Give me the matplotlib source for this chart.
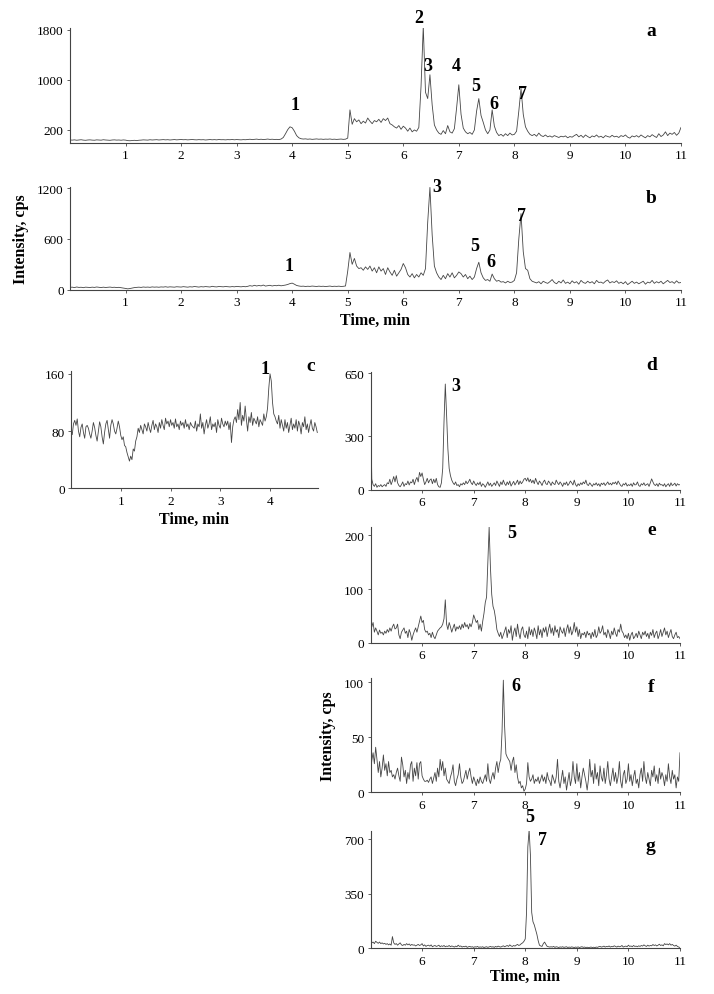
import numpy as np
import matplotlib
matplotlib.use("Agg")
import matplotlib.pyplot as plt

plt.rcParams['font.family'] = ['Liberation Serif', 'DejaVu Serif']

# ---------------- data ----------------
# panel a: TIC, 0-11 min, step 0.04 min
a_step = 0.04
a_y = [40, 38, 42, 36, 40, 44, 38, 35, 40, 42,
       38, 36, 42, 40, 37, 44, 40, 38, 35, 40,
       42, 38, 40, 36, 41, 38, 30, 28, 32, 35,
       30, 36, 38, 42, 40, 38, 44, 40, 42, 45,
       40, 43, 46, 42, 45, 40, 44, 47, 42, 45,
       48, 44, 46, 42, 45, 48, 44, 42, 46, 43,
       45, 40, 44, 47, 43, 46, 42, 48, 44, 45,
       42, 46, 44, 48, 43, 47, 45, 42, 46, 44,
       48, 52, 46, 50, 54, 48, 52, 47, 50, 55,
       49, 52, 48, 50, 46,
       55, 80, 140, 205, 250, 235, 180, 110, 75,
       60, 55, 58, 52, 56, 50, 54, 57, 52, 55,
       50, 54, 52, 56, 50, 53, 49, 52, 55, 50, 53,
       70, 520, 290, 380, 330, 360, 300, 340, 310, 390,
       340, 300, 350, 330, 370, 320, 380, 350, 390, 300,
       280, 250, 230, 270, 210, 260, 230, 180, 230, 170,
       200, 180, 240, 900, 1850, 800, 700, 1080, 600, 280,
       200, 150, 130, 190, 140, 270, 170, 150, 220, 550,
       920, 450, 230, 170, 140, 160, 130, 200, 500, 700,
       430, 320, 200, 140, 200, 520, 260, 160, 110, 130,
       100, 140, 110, 150, 120, 130, 180, 500, 860, 450,
       250, 180, 130, 110, 130, 100, 150, 110, 95, 120,
       90, 105, 85, 110, 95, 80, 100, 90, 105, 75,
       95, 85, 110, 130, 90, 115, 80, 120, 95, 75,
       105, 90, 120, 85, 100, 75, 110, 95, 85, 115,
       90, 100, 80, 110, 95, 120, 85, 70, 105, 90,
       110, 85, 120, 95, 75, 110, 90, 125, 100, 80,
       140, 95, 120, 170, 110, 150, 130, 160, 115, 150,
       240]

# panel b: 0-11 min, step 0.04 min
b_y = [28, 30, 25, 32, 27, 29, 24, 30, 28, 26,
       30, 27, 32, 28, 25, 30, 26, 29, 31, 27,
       29, 25, 28, 24, 20, 15, 10, 14, 20, 25,
       28, 30, 27, 32, 29, 31, 28, 33, 30, 32,
       29, 33, 31, 35, 30, 34, 32, 30, 35, 33,
       31, 36, 33, 30, 35, 32, 38, 34, 31, 36,
       33, 37, 34, 32, 40, 35, 33, 38, 36, 34,
       38, 35, 33, 37, 34, 39, 36, 34, 38, 35,
       40, 48, 42, 52, 44, 50, 45, 55, 43, 48,
       52, 44, 50, 47, 53, 46, 50, 55, 62, 72,
       78, 65, 50, 44, 40, 42, 38, 41, 39, 43,
       40, 38, 42, 39, 41, 37, 40, 43, 38, 41,
       39, 42, 38, 40, 44,
       220, 440, 300, 370, 280, 250, 260, 230, 270, 240,
       280, 220, 260, 200, 270, 220, 250, 180, 260, 210,
       170, 230, 160, 200, 240, 310, 260, 180, 150, 190,
       140, 180, 150, 200, 170, 250, 800, 1210, 650, 280,
       200, 150, 120, 170, 130, 190, 150, 200, 140, 170,
       210, 190, 150, 180, 130, 160, 120, 150, 250, 325,
       200, 140, 110, 120, 100, 185, 130, 100, 110, 90,
       95, 80, 100, 85, 90, 110, 200, 600, 900, 450,
       250, 230, 130, 100, 90, 80, 95, 70, 100, 85,
       75, 95, 120, 85, 70, 100, 80, 115, 75, 90,
       70, 105, 80, 95, 65, 110, 85, 75, 100, 80,
       95, 70, 110, 85, 90, 75, 100, 115, 80, 95,
       85, 105, 75, 90, 70, 95, 60, 80, 100, 75,
       90, 70, 85, 100, 65, 90, 80, 110, 75, 95,
       80, 100, 70, 90, 110, 85, 95, 75, 105, 80,
       85]

# panel c: 0-4.95 min, step 0.025 min
c_step = 0.025
c_y = [82, 75, 90, 95, 88, 97, 80, 72, 85, 90,
       78, 70, 86, 88, 84, 76, 70, 80, 92, 85,
       74, 66, 80, 93, 86, 72, 62, 78, 90, 95,
       82, 70, 88, 96, 90, 80, 76, 84, 94, 86,
       74, 68, 72, 60, 58, 50, 44, 38, 45, 40,
       55, 52, 66, 72, 84, 78, 88, 82, 76, 90,
       86, 80, 92, 84, 78, 88, 95, 82, 90, 86,
       78, 92, 84, 96, 88, 82, 98, 90, 94, 86,
       96, 88, 92, 84, 97, 86, 90, 82, 94, 88,
       92, 84, 96, 86, 90, 82, 92, 88, 86, 84,
       94, 80, 90, 86, 104, 84, 92, 76, 88, 96,
       84, 90, 100, 82, 90, 86, 92, 78, 96, 88,
       84, 98, 90, 86, 94, 88, 94, 82, 92, 64,
       86, 96, 100, 92, 110, 96, 120, 88, 102, 94,
       115, 96, 80, 100, 92, 106, 88, 98, 94, 90,
       100, 86, 96, 92, 88, 104, 94, 100, 112, 140,
       160, 150, 120, 104, 100, 94, 90, 102, 84, 96,
       88, 80, 96, 84, 92, 78, 88, 98, 82, 90,
       84, 96, 80, 94, 88, 76, 92, 86, 100, 82,
       90, 78, 88, 96, 84, 80, 92, 86, 78]

# panels d-g: 5-11 min, step 0.025 min
dg_step = 0.025
d_y = [480, 60, 30, 20, 35, 15, 25, 20, 30, 18,
       25, 30, 20, 40, 35, 60, 30, 50, 75, 45,
       80, 40, 25, 18, 30, 45, 20, 35, 30, 50,
       28, 45, 40, 60, 30, 55, 70, 45, 98, 75,
       95, 60, 30, 45, 65, 40, 55, 62, 35, 60,
       40, 65, 30, 18, 15, 40, 120, 380, 590, 420,
       230, 120, 80, 55, 40, 30, 45, 25, 30, 18,
       35, 28, 40, 30, 50, 35, 45, 60, 40, 30,
       50, 35, 25, 40, 30, 45, 20, 35, 28, 15,
       30, 45, 25, 38, 20, 30, 40, 25, 50, 35,
       20, 45, 30, 55, 35, 25, 45, 30, 50, 22,
       35, 48, 28, 40, 55, 30, 50, 35, 45, 60,
       65, 50, 68, 45, 60, 40, 55, 35, 65, 45,
       30, 50, 40, 25, 45, 55, 35, 30, 50, 40,
       25, 45, 35, 30, 55, 40, 30, 45, 35, 20,
       40, 30, 45, 25, 35, 50, 40, 28, 55, 30,
       20, 35, 25, 40, 30, 45, 35, 55, 30, 25,
       40, 30, 20, 35, 28, 40, 25, 35, 20, 38,
       30, 40, 25, 35, 45, 30, 38, 28, 42, 35,
       45, 30, 50, 38, 25, 20, 35, 28, 40, 22,
       30, 25, 35, 20, 40, 28, 30, 45, 25, 20,
       35, 28, 40, 25, 30, 35, 20, 40, 62, 45,
       30, 25, 35, 20, 38, 28, 30, 22, 35, 18,
       28, 35, 20, 40, 25, 30, 38, 22, 35, 28,
       30]

e_y = [47, 30, 38, 20, 28, 22, 15, 24, 18, 20,
       15, 22, 18, 25, 20, 28, 22, 30, 35, 26,
       28, 35, 15, 8, 20, 24, 28, 18, 22, 10,
       25, 18, 5, 15, 22, 28, 20, 30, 40, 50,
       38, 42, 25, 20, 22, 15, 18, 10, 20, 12,
       8, 15, 22, 25, 28, 30, 35, 45, 80, 35,
       25, 38, 30, 20, 28, 35, 22, 30, 26, 32,
       25, 35, 28, 38, 30, 34, 26, 36, 30, 38,
       52, 45, 38, 42, 25, 35, 22, 40, 55, 75,
       85, 150, 215, 140, 90, 68, 60, 45, 25, 18,
       12, 20, 8, 15, 22, 30, 10, 25, 18, 32,
       5, 20, 28, 12, 35, 18, 8, 25, 30, 15,
       10, 22, 8, 30, 15, 25, 12, 28, 20, 8,
       32, 15, 25, 10, 28, 20, 30, 12, 25, 35,
       18, 28, 14, 32, 20, 25, 10, 30, 22, 18,
       28, 12, 25, 34, 18, 30, 15, 22, 38, 20,
       30, 12, 25, 8, 18, 15, 20, 10, 22, 15,
       18, 8, 20, 12, 25, 10, 15, 30, 18, 22,
       32, 15, 20, 10, 25, 18, 8, 22, 15, 28,
       18, 12, 25, 20, 35, 22, 18, 10, 15, 8,
       18, 5, 15, 20, 8, 12, 18, 10, 22, 15,
       8, 20, 15, 22, 12, 18, 8, 20, 14, 25,
       10, 18, 22, 8, 15, 25, 12, 20, 28, 15,
       22, 10, 18, 25, 12, 8, 15, 20, 10, 12,
       8]

f_y = [17, 29, 36, 26, 41, 30, 18, 28, 14, 22,
       34, 20, 26, 15, 28, 18, 20, 14, 16, 12,
       18, 22, 15, 10, 32, 25, 14, 20, 8, 18,
       12, 25, 28, 10, 22, 15, 27, 12, 26, 28,
       15, 12, 10, 10, 11, 9, 12, 14, 8, 13,
       18, 10, 22, 14, 30, 20, 28, 15, 22, 12,
       10, 8, 14, 18, 25, 10, 6, 12, 16, 26,
       14, 8, 10, 15, 20, 12, 18, 22, 14, 8,
       14, 10, 6, 12, 8, 14, 10, 8, 12, 16,
       10, 26, 12, 8, 14, 18, 12, 22, 28, 18,
       26, 30, 55, 102, 60, 35, 32, 30, 28, 20,
       28, 32, 18, 25, 14, 8, 10, 4, 6, 1,
       3, 8, 27, 14, 10, 12, 16, 8, 12, 10,
       14, 8, 12, 16, 10, 14, 8, 18, 12, 10,
       6, 16, 12, 8, 14, 30, 10, 4, 12, 20,
       8, 14, 2, 10, 18, 6, 12, 28, 14, 8,
       26, 10, 18, 4, 14, 22, 16, 10, 2, 12,
       30, 14, 20, 8, 26, 12, 18, 6, 24, 14,
       10, 22, 8, 16, 28, 12, 6, 14, 22, 10,
       18, 8, 14, 28, 10, 4, 16, 20, 8, 12,
       26, 10, 16, 6, 14, 20, 8, 12, 4, 16,
       22, 10, 28, 14, 8, 18, 12, 6, 20, 14,
       24, 10, 16, 8, 22, 12, 18, 14, 6, 16,
       10, 26, 14, 8, 20, 12, 16, 4, 14, 10,
       36]

g_y = [28, 35, 40, 30, 45, 38, 32, 40, 30, 35,
       28, 32, 25, 30, 22, 28, 20, 75, 35, 25,
       30, 20, 28, 35, 22, 18, 25, 20, 30, 22,
       28, 18, 25, 20, 22, 15, 20, 25, 18, 22,
       30, 15, 22, 12, 18, 20, 14, 22, 10, 15,
       18, 12, 15, 20, 10, 16, 12, 18, 10, 14,
       12, 18, 10, 15, 12, 8, 14, 10, 20, 12,
       15, 8, 12, 10, 14, 6, 10, 12, 8, 10,
       6, 10, 8, 12, 6, 9, 7, 10, 5, 8,
       10, 6, 9, 12, 8, 10, 6, 12, 8, 14,
       10, 8, 12, 16, 10, 14, 18, 12, 22, 15,
       12, 18, 14, 20, 25, 18, 22, 30, 35, 45,
       60, 230, 650, 760, 600, 230, 170, 150, 120, 90,
       50, 20, 15, 12, 30, 40, 25, 12, 10, 8,
       10, 8, 12, 6, 10, 8, 5, 9, 7, 10,
       6, 8, 10, 5, 8, 6, 9, 7, 5, 8,
       6, 9, 5, 8, 10, 6, 8, 5, 7, 4,
       6, 8, 5, 7, 4, 8, 6, 10, 12, 8,
       10, 14, 8, 12, 10, 15, 8, 12, 10, 16,
       12, 8, 14, 10, 12, 18, 8, 12, 14, 10,
       20, 12, 15, 10, 18, 12, 14, 10, 16, 12,
       18, 14, 22, 16, 12, 20, 14, 18, 16, 24,
       18, 22, 15, 20, 26, 18, 22, 16, 30, 24,
       28, 22, 30, 20, 25, 18, 14, 20, 12, 8,
       5]

assert len(a_y) == 276 and len(b_y) == 276
assert len(c_y) == 199
assert len(d_y) == len(e_y) == len(f_y) == len(g_y) == 241

t_ab = np.arange(len(a_y)) * a_step
t_c = np.arange(len(c_y)) * c_step
t_dg = 5 + np.arange(len(d_y)) * dg_step

# tick labels
a_yticks = [200, 1000, 1800]
b_yticks = [0, 600, 1200]
c_yticks = [0, 80, 160]
d_yticks = [0, 300, 650]
e_yticks = [0, 100, 200]
f_yticks = [0, 50, 100]
g_yticks = [0, 350, 700]

# peak labels: (text, time, intensity)
a_peaks = [("1", 4.05, 600), ("2", 6.27, 1990), ("3", 6.45, 1220), ("4", 6.95, 1220),
           ("5", 7.30, 915), ("6", 7.63, 615), ("7", 8.14, 775)]
b_peaks = [("1", 3.95, 285), ("3", 6.60, 1225), ("5", 7.28, 520), ("6", 7.57, 330), ("7", 8.13, 875)]
c_peaks = [("1", 3.90, 168)]
d_peaks = [("3", 6.66, 580)]
e_peaks = [("5", 7.74, 205)]
f_peaks = [("6", 7.81, 97)]
g_peaks = [("7", 8.33, 700), ("5", 8.09, 845)]

# ---------------- drawing ----------------
W, H = 714, 995
fig = plt.figure(figsize=(W / 100, H / 100), dpi=100)


def make_ax(left, right, top, bottom):
    return fig.add_axes([left / W, 1 - bottom / H, (right - left) / W, (bottom - top) / H])


line_kw = dict(color="#454545", lw=0.6)
tick_fs = 9.5
peak_fs = 13
lbl_fs = 11.5


def style(ax, xlim, ylim, xticks, yticks):
    ax.set_xlim(*xlim)
    ax.set_ylim(*ylim)
    ax.set_xticks(xticks)
    ax.set_yticks(yticks)
    for s in ("top", "right"):
        ax.spines[s].set_visible(False)
    for s in ("left", "bottom"):
        ax.spines[s].set_color("#444444")
        ax.spines[s].set_linewidth(0.8)
    ax.tick_params(axis="both", length=2.5, width=0.6, colors="#444444",
                   labelsize=tick_fs, labelcolor="black", pad=2)


def labels(ax, peaks, letter, lx, ly):
    for txt, x, y in peaks:
        ax.text(x, y, txt, fontsize=peak_fs, fontweight="bold", ha="center", va="center",
                clip_on=False)
    ax.text(lx, ly, letter, fontsize=peak_fs + 1, fontweight="bold", ha="center", va="center",
            clip_on=False)


ax_a = make_ax(70, 681, 29, 143.5)
ax_a.plot(t_ab, a_y, **line_kw)
style(ax_a, (0, 11), (0, 1825), range(1, 12), a_yticks)
labels(ax_a, a_peaks, "a", 10.47, 1780)

ax_b = make_ax(70, 681, 188, 290.7)
ax_b.plot(t_ab, b_y, **line_kw)
style(ax_b, (0, 11), (0, 1215), range(1, 12), b_yticks)
labels(ax_b, b_peaks, "b", 10.47, 1090)
ax_b.set_xlabel("Time, min", fontsize=lbl_fs, fontweight="bold", labelpad=3)
ax_b.set_ylabel("Intensity, cps", fontsize=lbl_fs, fontweight="bold", labelpad=6)

ax_c = make_ax(71, 317.8, 372, 489.3)
ax_c.plot(t_c, c_y, **line_kw)
style(ax_c, (0, 4.96), (0, 164), range(1, 5), c_yticks)
labels(ax_c, c_peaks, "c", 4.82, 172)
ax_c.set_xlabel("Time, min", fontsize=lbl_fs, fontweight="bold", labelpad=3)

ax_d = make_ax(370.5, 680, 373, 491)
ax_d.plot(t_dg, d_y, **line_kw)
style(ax_d, (5, 11), (0, 657), range(6, 12), d_yticks)
labels(ax_d, d_peaks, "d", 10.45, 696)

ax_e = make_ax(370.5, 680, 528, 644)
ax_e.plot(t_dg, e_y, **line_kw)
style(ax_e, (5, 11), (0, 215), range(6, 12), e_yticks)
labels(ax_e, e_peaks, "e", 10.45, 211)

ax_f = make_ax(370.5, 680, 679, 793.3)
ax_f.plot(t_dg, f_y, **line_kw)
style(ax_f, (5, 11), (0, 104), range(6, 12), f_yticks)
labels(ax_f, f_peaks, "f", 10.43, 96)
ax_f.set_ylabel("Intensity, cps", fontsize=lbl_fs, fontweight="bold", labelpad=6)

ax_g = make_ax(370.5, 680, 832, 949.3)
ax_g.plot(t_dg, g_y, **line_kw)
style(ax_g, (5, 11), (0, 752), range(6, 12), g_yticks)
labels(ax_g, g_peaks, "g", 10.43, 658)
ax_g.set_xlabel("Time, min", fontsize=lbl_fs, fontweight="bold", labelpad=1)

fig.savefig("out.png", dpi=100, facecolor="white")
